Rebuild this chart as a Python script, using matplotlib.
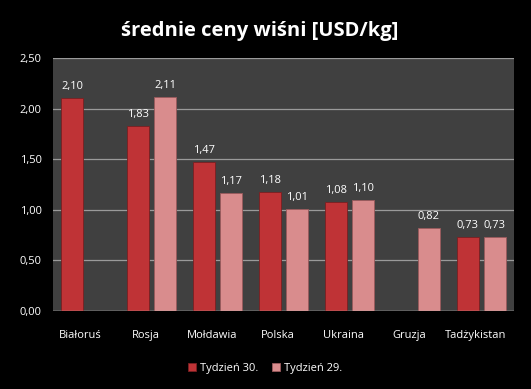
import matplotlib.pyplot as plt
import matplotlib.transforms as mtransforms
import numpy as np

kraje = ["Białoruś", "Rosja", "Mołdawia", "Polska", "Ukraina", "Gruzja", "Tadżykistan"]
tydzien30 = [2.10, 1.83, 1.47, 1.18, 1.08, np.nan, 0.73]
tydzien29 = [np.nan, 2.11, 1.17, 1.01, 1.10, 0.82, 0.73]
yticks = [0.0, 0.5, 1.0, 1.5, 2.0, 2.5]

plt.rcParams['font.family'] = ['Open Sans', 'DejaVu Sans']

fig = plt.figure(figsize=(5.31, 3.89), dpi=100, facecolor="black")
ax = fig.add_axes([53/531, 1-311/389, 461/531, 253/389])
ax.set_facecolor("#404040")

x = np.arange(len(kraje))
w = 0.335
b1 = ax.bar(x - 0.205, tydzien30, w, color="#BF3336", edgecolor="#7a1f22", linewidth=0.6,
            label="Tydzień 30.", zorder=3)
b2 = ax.bar(x + 0.205, tydzien29, w, color="#D98C8D", edgecolor="#9a5a5c", linewidth=0.6,
            label="Tydzień 29.", zorder=3)

for bars, vals in ((b1, tydzien30), (b2, tydzien29)):
    for r, v in zip(bars, vals):
        if np.isnan(v):
            continue
        ax.text(r.get_x() + r.get_width()/2, v + 0.06, f"{v:.2f}".replace(".", ","),
                ha="center", va="bottom", color="white", fontsize=8)

ax.set_xlim(-0.5, len(kraje) - 0.5)
ax.set_ylim(0, 2.5)
ax.set_yticks(yticks)
ax.set_yticklabels([f"{t:.2f}".replace(".", ",") for t in yticks])
ax.set_xticks(x)
ax.set_xticklabels(kraje)
ax.tick_params(colors="white", labelsize=8, length=0, pad=8)
ax.tick_params(axis="x", pad=14)
# labels sit a little left of the bar pairs
shift = mtransforms.ScaledTranslation(-4/72, 0, fig.dpi_scale_trans)
for lbl in ax.get_xticklabels():
    lbl.set_transform(lbl.get_transform() + shift)
ax.yaxis.grid(True, color="#9a9a9a", linewidth=0.9, zorder=0)
for s in ax.spines.values():
    s.set_visible(False)
ax.axhline(0, color="#b0b0b0", linewidth=1, zorder=4)

fig.text(260/531, 1-31/389, "średnie ceny wiśni [USD/kg]", ha="center", va="center",
         color="white", fontsize=14.5, fontweight="bold")

leg = fig.legend(loc="center", bbox_to_anchor=(265/531, 1-368/389), ncol=2, frameon=False,
                 fontsize=8, labelcolor="white", handlelength=0.7, handleheight=0.7,
                 columnspacing=1.2, handletextpad=0.4)

fig.savefig("out.png", dpi=100, facecolor="black")
